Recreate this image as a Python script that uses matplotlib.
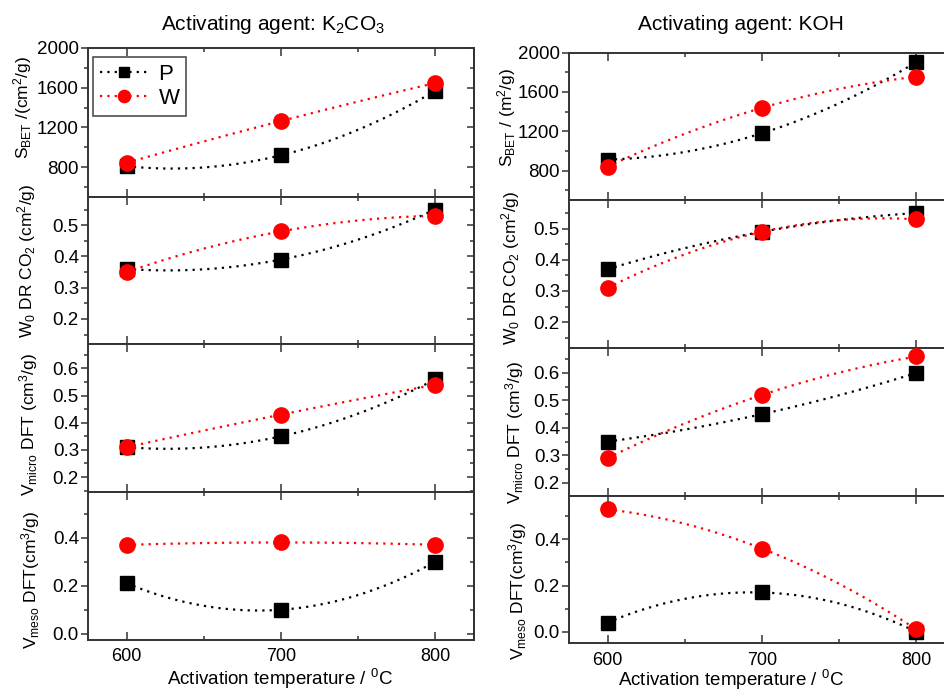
import numpy as np
import matplotlib
matplotlib.use("Agg")
import matplotlib.pyplot as plt
from matplotlib.ticker import MultipleLocator, FormatStrFormatter

plt.rcParams['font.family'] = ['Liberation Sans', 'DejaVu Sans']
plt.rcParams['mathtext.default'] = 'regular'

# ---- data ----
temps = [600, 700, 800]

k2co3_sbet_P = [810, 920, 1570]
k2co3_sbet_W = [845, 1265, 1648]
k2co3_w0_P = [0.36, 0.39, 0.55]
k2co3_w0_W = [0.35, 0.48, 0.53]
k2co3_vmicro_P = [0.31, 0.35, 0.56]
k2co3_vmicro_W = [0.31, 0.43, 0.54]
k2co3_vmeso_P = [0.21, 0.10, 0.30]
k2co3_vmeso_W = [0.37, 0.38, 0.37]

koh_sbet_P = [912, 1180, 1905]
koh_sbet_W = [840, 1438, 1755]
koh_w0_P = [0.37, 0.49, 0.55]
koh_w0_W = [0.31, 0.49, 0.53]
koh_vmicro_P = [0.35, 0.45, 0.60]
koh_vmicro_W = [0.29, 0.52, 0.66]
koh_vmeso_P = [0.04, 0.17, 0.00]
koh_vmeso_W = [0.53, 0.36, 0.01]

series_labels = ["P", "W"]
col_titles = ["Activating agent: K$_2$CO$_3$", "Activating agent: KOH"]
xlabel_text = "Activation temperature / $^0$C"
ylabels_left = ["S$_{BET}$ /(cm$^2$/g)", "W$_0$ DR CO$_2$ (cm$^2$/g)",
                "V$_{micro}$ DFT (cm$^3$/g)", "V$_{meso}$ DFT(cm$^3$/g)"]
ylabels_right = ["S$_{BET}$ / (m$^2$/g)", "W$_0$ DR CO$_2$ (cm$^2$/g)",
                 "V$_{micro}$ DFT (cm$^3$/g)", "V$_{meso}$ DFT(cm$^3$/g)"]

W, H = 944, 693
fig = plt.figure(figsize=(W / 100, H / 100), dpi=100)

def px_axes(x0, x1, y0, y1):
    return fig.add_axes([x0 / W, 1 - y1 / H, (x1 - x0) / W, (y1 - y0) / H])

left_bounds = [48, 197, 344, 492, 640]
right_bounds = [52.7, 200, 347.7, 495.7, 643.3]

ylims = [(500, 2000), (0.12, 0.59), (0.145, 0.69), (-0.026, 0.59)]
ylims_r = [(500, 2000), (0.118, 0.592), (0.153, 0.692), (-0.05, 0.589)]
majors = [400, 0.1, 0.1, 0.2]
minors = [200, 0.05, 0.05, 0.1]

left_data = [(k2co3_sbet_P, k2co3_sbet_W), (k2co3_w0_P, k2co3_w0_W),
             (k2co3_vmicro_P, k2co3_vmicro_W), (k2co3_vmeso_P, k2co3_vmeso_W)]
right_data = [(koh_sbet_P, koh_sbet_W), (koh_w0_P, koh_w0_W),
              (koh_vmicro_P, koh_vmicro_W), (koh_vmeso_P, koh_vmeso_W)]

spine_col = '#333333'
dot_ls = (0, (1, 2.3))

def draw(ax, P, Wv, ylim, major, minor, bottom, legend=False):
    xs = np.linspace(600, 800, 200)
    handles = []
    for vals, col, mk, ms, lab in [(P, 'black', 's', 9.5, series_labels[0]),
                                   (Wv, 'red', 'o', 11, series_labels[1])]:
        coef = np.polyfit(temps, vals, 2)
        ax.plot(xs, np.polyval(coef, xs), color=col, lw=1.6, ls=dot_ls, zorder=2)
        ax.plot(temps, vals, ls='none', marker=mk, ms=ms, color=col, zorder=3)
        h, = ax.plot([], [], color=col, lw=1.6, ls=dot_ls, marker=mk, ms=ms * 0.8,
                     label=lab)
        handles.append(h)
    ax.set_xlim(575, 825)
    ax.set_ylim(*ylim)
    ax.xaxis.set_major_locator(MultipleLocator(100))
    ax.xaxis.set_minor_locator(MultipleLocator(50))
    ax.yaxis.set_major_locator(MultipleLocator(major))
    ax.yaxis.set_minor_locator(MultipleLocator(minor))
    for s in ax.spines.values():
        s.set_color(spine_col)
        s.set_linewidth(1.4)
    ax.tick_params(axis='x', which='both', direction='in', top=True, bottom=True,
                   labelbottom=bottom, color=spine_col, labelsize=13, pad=6)
    ax.tick_params(axis='x', which='major', length=6, width=1.1)
    ax.tick_params(axis='x', which='minor', length=3, width=1.1)
    ax.tick_params(axis='y', which='both', left=True, right=False, direction='out',
                   color=spine_col, labelsize=13.5, pad=1.5)
    ax.tick_params(axis='y', which='major', length=5, width=1.1)
    ax.tick_params(axis='y', which='minor', length=3, width=1.1)
    sec = ax.secondary_yaxis('right')
    sec.yaxis.set_major_locator(MultipleLocator(major))
    sec.yaxis.set_minor_locator(MultipleLocator(minor))
    sec.tick_params(which='both', direction='in', labelright=False, color=spine_col)
    sec.tick_params(which='major', length=5, width=1.1)
    sec.tick_params(which='minor', length=3, width=1.1)
    sec.spines['right'].set_color(spine_col)
    sec.spines['right'].set_linewidth(1.4)
    if major == 400:
        ax.set_yticks([800, 1200, 1600, 2000])
    else:
        ax.yaxis.set_major_formatter(FormatStrFormatter('%.1f'))
    if legend:
        leg = ax.legend(handles=handles, loc='upper left', bbox_to_anchor=(0.013, 0.94),
                        borderaxespad=0, fontsize=16, frameon=True, fancybox=False,
                        handlelength=2.2, handletextpad=0.45, borderpad=0.3,
                        labelspacing=0.15)
        leg.get_frame().set_edgecolor('#222222')
        leg.get_frame().set_linewidth(1.2)

for i in range(4):
    axl = px_axes(88, 474, left_bounds[i], left_bounds[i + 1])
    draw(axl, *left_data[i], ylims[i], majors[i], minors[i], i == 3, legend=(i == 0))
    axr = px_axes(569, 955, right_bounds[i], right_bounds[i + 1])
    draw(axr, *right_data[i], ylims_r[i], majors[i], minors[i], i == 3)

# y labels
lab_pos_left = [(23, 107), (27, 261), (29, 425), (31, 580)]
lab_pos_right = [(507, 117), (511, 268), (515, 433), (518, 591)]
for (x, y), t in zip(lab_pos_left, ylabels_left):
    fig.text(x / W, 1 - y / H, t, rotation=90, ha='center', va='center', fontsize=12.5)
for (x, y), t in zip(lab_pos_right, ylabels_right):
    fig.text(x / W, 1 - y / H, t, rotation=90, ha='center', va='center', fontsize=12.5)

# titles
fig.text(273 / W, 1 - 24 / H, col_titles[0], ha='center', va='center', fontsize=15)
fig.text(741 / W, 1 - 24 / H, col_titles[1], ha='center', va='center', fontsize=15)

# x labels
fig.text(280 / W, 1 - 679 / H, xlabel_text, ha='center', va='center', fontsize=13.5)
fig.text(731 / W, 1 - 680 / H, xlabel_text, ha='center', va='center', fontsize=13.5)

fig.savefig("out.png", dpi=100)
